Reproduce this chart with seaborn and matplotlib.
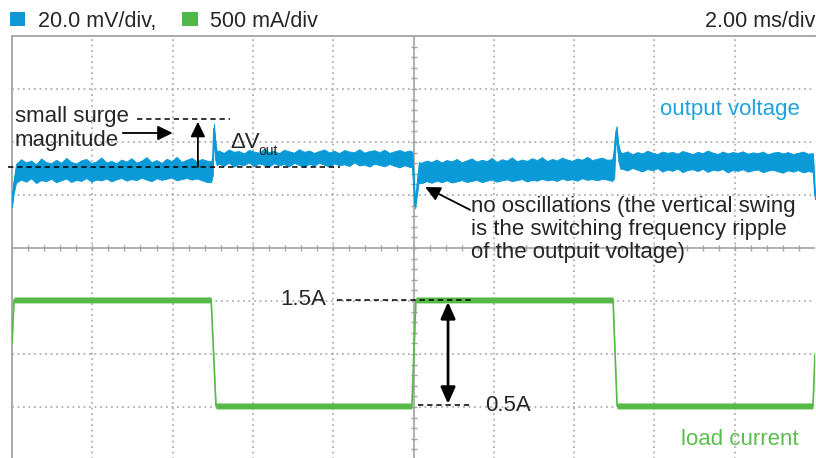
import numpy as np
import matplotlib
matplotlib.use("Agg")
import matplotlib.pyplot as plt
from matplotlib.patches import Rectangle
import pandas as pd
import seaborn as sns

# ---- data read off the scope shot ----
# time in ms (2.00 ms/div, 10 div wide), voltage in mV relative to the
# starting level (20.0 mV/div), current in A (500 mA/div)
STEP = 0.125   # ms between the ripple readings below

# flat stretches of the output voltage: upper / lower edge of the ripple band
flat_start = [0.10, 5.15, 10.20, 15.20]
flat_hi = [
    [2.4, 4.1, 2.9, 3.6, 2.2, 4.4, 3.0, 2.6, 3.9, 2.8, 4.6, 3.1, 2.5, 3.7, 4.2, 2.7, 3.3, 4.8, 2.9, 3.5,
     2.6, 4.0, 3.2, 4.5, 2.8, 3.6, 4.9, 3.0, 3.8, 2.7, 4.3, 3.4, 5.0, 3.1, 3.9, 4.6, 3.3, 4.2, 3.6],
    [7.4, 6.5, 7.8, 6.9, 7.2, 6.3, 7.6, 7.0, 6.6, 8.0, 6.8, 7.3, 6.4, 7.7, 7.1, 6.6, 7.9, 6.9, 7.4, 6.5,
     7.2, 7.8, 6.7, 7.3, 6.4, 7.6, 7.0, 6.8, 7.9, 6.6, 7.2, 7.5, 6.8, 7.7, 6.5, 7.1, 7.6, 6.9, 7.4],
    [2.8, 3.6, 3.1, 4.0, 2.9, 3.8, 3.3, 4.2, 3.0, 3.7, 4.4, 3.2, 3.9, 3.4, 4.6, 3.1, 4.1, 3.6, 4.8, 3.3,
     4.0, 3.5, 4.5, 3.8, 4.9, 3.4, 4.2, 3.7, 4.7, 4.0, 3.5, 4.4, 3.9, 5.0, 3.8, 4.3, 4.7, 3.9, 4.1],
    [6.4, 7.1, 6.0, 6.8, 6.3, 7.3, 6.6, 6.1, 7.0, 6.5, 6.9, 6.2, 7.2, 6.7, 6.0, 6.9, 6.4, 7.4, 6.6, 6.1,
     7.0, 6.3, 6.8, 6.5, 7.1, 6.2, 6.7, 6.4, 7.0, 6.0, 6.6, 6.9, 6.3, 6.8, 6.1, 6.5, 7.0, 6.2, 6.4],
]
flat_lo = [
    [-4.8, -3.6, -4.4, -3.1, -4.9, -3.8, -4.2, -3.3, -4.6, -3.9, -3.2, -4.5, -3.7, -4.1, -3.0, -4.4, -3.6,
     -3.9, -3.2, -4.3, -3.5, -3.0, -4.0, -3.4, -3.8, -2.9, -3.6, -4.2, -3.1, -3.7, -3.3, -2.8, -3.9, -3.4,
     -3.0, -3.6, -3.2, -3.8, -4.5],
    [2.4, 1.6, 2.8, 1.3, 2.2, 1.8, 2.9, 1.5, 2.5, 2.0, 1.2, 2.6, 1.7, 2.3, 1.4, 2.7, 1.9, 1.1, 2.4, 1.6,
     2.8, 2.0, 1.3, 2.5, 1.8, 2.2, 1.5, 2.9, 1.7, 2.1, 1.3, 2.4, 1.9, 1.4, 2.3, 1.6, 1.0, 1.8, 1.2],
    [-5.0, -4.2, -4.8, -4.0, -4.6, -3.9, -4.7, -4.3, -3.8, -4.5, -4.1, -3.7, -4.6, -4.0, -3.6, -4.4, -3.9,
     -3.5, -4.2, -3.8, -3.4, -4.3, -3.7, -4.0, -3.3, -3.9, -3.6, -4.1, -3.2, -3.8, -3.5, -4.0, -3.1, -3.7,
     -3.4, -3.9, -3.3, -3.6, -4.1],
    [0.5, -0.2, 0.8, 0.1, -0.5, 0.4, -0.1, 0.7, -0.6, 0.2, -0.3, 0.6, -0.8, 0.0, 0.3, -0.4, 0.5, -0.7,
     0.1, -0.2, 0.4, -0.9, 0.0, -0.3, 0.3, -0.6, -0.1, 0.2, -0.8, -0.2, 0.1, -0.5, -1.0, -0.1, -0.6,
     0.0, -0.9, -0.4, -0.7],
]

# transients (edges of the load steps): time, upper, lower
edge_t = [0.00, 0.04, 4.96, 5.00, 5.03, 5.06, 5.10,
          9.97, 10.00, 10.04, 10.08, 10.13,
          15.00, 15.03, 15.06, 15.10, 15.15, 20.00]
edge_hi = [-12.0, -4.0, 3.4, 6.0, 17.5, 12.0, 7.0,
           7.0, 0.0, -12.5, -6.0, 3.0,
           9.0, 15.0, 16.6, 10.0, 7.0, -8.5]
edge_lo = [-14.0, -9.0, -4.6, -2.0, 14.0, 4.0, 1.8,
           1.0, -6.0, -14.5, -10.0, -4.8,
           -3.0, 9.0, 12.5, 3.5, 0.5, -11.0]

# load current
i_t = [0.00, 0.05, 4.96, 5.08, 9.96, 10.06, 14.97, 15.07, 19.95, 20.00]
i_a = [1.10, 1.51, 1.51, 0.51, 0.51, 1.51, 1.51, 0.51, 0.51, 1.00]

MV_DIV = 20.0
A_DIV = 0.5
V_ZERO = 5.47      # screen position (div) of the voltage reference level
I_HALF = 0.028     # half thickness of the current trace, A

BLUE = '#0a9ad8'
GREEN = '#56b948'
GRID = '#a3a3a3'

sns.set_style("white")
plt.rcParams['font.family'] = ['Liberation Sans', 'DejaVu Sans']

parts = [pd.DataFrame({'t': edge_t, 'hi': edge_hi, 'lo': edge_lo})]
for t0, hi, lo in zip(flat_start, flat_hi, flat_lo):
    parts.append(pd.DataFrame({'t': t0 + STEP * np.arange(len(hi)), 'hi': hi, 'lo': lo}))
volt = pd.concat(parts).sort_values('t').reset_index(drop=True)
volt['hi'] = volt['hi'] / MV_DIV + V_ZERO
volt['lo'] = volt['lo'] / MV_DIV + V_ZERO
volt['mid'] = (volt['hi'] + volt['lo']) / 2

cur = pd.DataFrame({'t': i_t, 'mid': np.array(i_a) / A_DIV})
cur['hi'] = cur['mid'] + I_HALF / A_DIV
cur['lo'] = cur['mid'] - I_HALF / A_DIV

fig = plt.figure(figsize=(8.16, 4.58), dpi=100)
ax = fig.add_axes([12/816, -2/458, 803/816, 424/458])
ax.set_xlim(0, 20)
ax.set_ylim(0, 8)

# scope graticule
dots = (0, (1.2, 2.4))
for g in range(2, 20, 2):
    if g != 10:
        ax.axvline(g, color=GRID, lw=1.1, ls=dots, zorder=1)
for g in range(1, 8):
    if g != 4:
        ax.axhline(g, color=GRID, lw=1.1, ls=dots, zorder=1)
ax.axvline(10, color=GRID, lw=1.2, zorder=1)
ax.axhline(4, color=GRID, lw=1.2, zorder=1)
tx = np.arange(0.4, 20, 0.4)
ty = np.arange(0.2, 8, 0.2)
ax.plot(tx, np.full(len(tx), 4.0), ls='none', marker='|', ms=4, mew=1.0, color=GRID, zorder=1)
ax.plot(np.full(len(ty), 10.0), ty, ls='none', marker='_', ms=4, mew=1.0, color=GRID, zorder=1)

# traces
ax.fill_between(volt['t'], volt['lo'], volt['hi'], color=BLUE, lw=0.6, zorder=3)
sns.lineplot(data=volt, x='t', y='mid', color=BLUE, lw=1.2, ax=ax,
             estimator=None, sort=False, zorder=3)
ax.fill_between(cur['t'], cur['lo'], cur['hi'], color=GREEN, lw=0, zorder=3)
sns.lineplot(data=cur, x='t', y='mid', color=GREEN, lw=1.2, ax=ax,
             estimator=None, sort=False, zorder=3)

ax.set_xlabel('')
ax.set_ylabel('')
ax.set_xticks([])
ax.set_yticks([])
for s in ['right', 'bottom']:
    ax.spines[s].set_visible(False)
for s in ['left', 'top']:
    ax.spines[s].set_color(GRID)
    ax.spines[s].set_linewidth(1.3)

# header
fig.add_artist(Rectangle((10/816, 1 - 26/458), 15/816, 14/458,
                         transform=fig.transFigure, color='#1297d5', lw=0))
fig.add_artist(Rectangle((182/816, 1 - 26/458), 16/816, 14/458,
                         transform=fig.transFigure, color='#4fb848', lw=0))
fig.text(38/816, 1 - 27/458, '20.0 mV/div,', fontsize=15.5, va='baseline')
fig.text(210/816, 1 - 27/458, '500 mA/div', fontsize=15.5, va='baseline')
fig.text(815/816, 1 - 27/458, '2.00 ms/div', fontsize=15.5, va='baseline', ha='right')

# annotations (ms, div)
dash = dict(color='black', lw=1.1, ls=(0, (3.5, 2.5)), clip_on=False, zorder=4)
ax.plot([-0.1, 8.17], [5.53, 5.53], **dash)
ax.plot([3.11, 5.43], [6.43, 6.43], **dash)
ax.plot([8.09, 11.43], [3.02, 3.02], **dash)
ax.plot([10.11, 11.43], [1.03, 1.03], **dash)

arr = dict(arrowstyle='-|>,head_length=0.45,head_width=0.22', color='black',
           lw=1.3, mutation_scale=20, shrinkA=0, shrinkB=0)
ax.annotate('', xy=(4.0, 6.17), xytext=(2.76, 6.17), arrowprops=arr)
ax.annotate('', xy=(4.63, 6.38), xytext=(4.63, 5.53), arrowprops=arr)
ax.annotate('', xy=(10.29, 5.15), xytext=(11.41, 4.72), arrowprops=arr)
ax.annotate('', xy=(10.86, 2.98), xytext=(10.86, 1.06),
            arrowprops=dict(arrowstyle='<|-|>,head_length=0.45,head_width=0.2',
                            color='black', lw=2.0, mutation_scale=22,
                            shrinkA=0, shrinkB=0))

ax.text(0.07, 6.38, 'small surge', fontsize=16, va='baseline')
ax.text(0.07, 5.92, 'magnitude', fontsize=16, va='baseline')
ax.text(5.43, 5.89, '\u0394V', fontsize=16, va='baseline')
ax.text(6.14, 5.76, 'out', fontsize=10, va='baseline')
ax.text(16.14, 6.51, 'output voltage', fontsize=16, va='baseline', color='#1fa3df')
ax.text(11.43, 4.68, 'no oscillations (the vertical swing', fontsize=16, va='baseline')
ax.text(11.43, 4.25, 'is the switching frequency ripple', fontsize=16, va='baseline')
ax.text(11.43, 3.81, 'of the outpuit voltage)', fontsize=16, va='baseline')
ax.text(6.67, 2.92, '1.5A', fontsize=16, va='baseline')
ax.text(11.78, 0.92, '0.5A', fontsize=16, va='baseline')
ax.text(16.66, 0.28, 'load current', fontsize=16, va='baseline', color='#5bbd4f')

fig.savefig('out.png', dpi=100)
